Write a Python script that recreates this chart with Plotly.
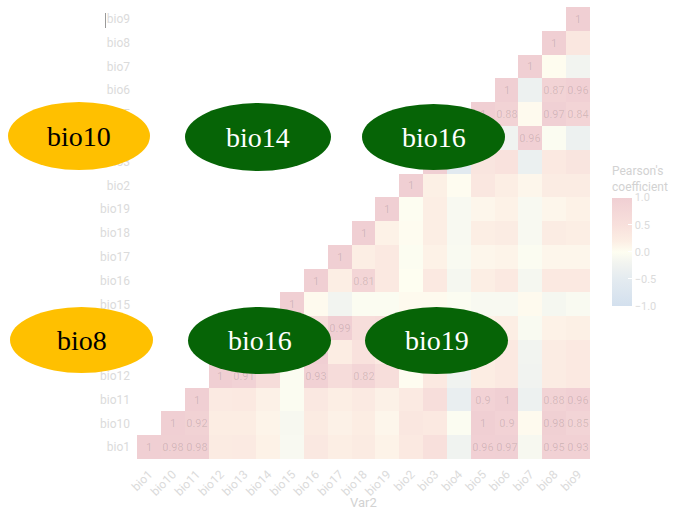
import numpy as np
import plotly.graph_objects as go

# Bioclimatic variables, in the order used on both axes
variables = ["bio1", "bio10", "bio11", "bio12", "bio13", "bio14", "bio15", "bio16",
             "bio17", "bio18", "bio19", "bio2", "bio3", "bio4", "bio5", "bio6",
             "bio7", "bio8", "bio9"]

# Pearson correlations, upper triangle: each row starts at its own diagonal
r_bio1 = [1, 0.98, 0.98, 0.27, 0.28, 0.15, -0.1, 0.32, 0.2, 0.26, 0.14, 0.3, 0.5, -0.25, 0.96, 0.97, -0.12, 0.95, 0.93]
r_bio10 = [1, 0.92, 0.22, 0.22, 0.12, -0.12, 0.26, 0.16, 0.22, 0.1, 0.35, 0.3, -0.05, 1, 0.9, 0.05, 0.98, 0.85]
r_bio11 = [1, 0.28, 0.3, 0.16, -0.05, 0.33, 0.2, 0.28, 0.16, 0.28, 0.55, -0.4, 0.9, 1, -0.3, 0.88, 0.96]
r_bio12 = [1, 0.91, 0.6, -0.05, 0.93, 0.62, 0.82, 0.55, 0.02, 0.3, -0.25, 0.22, 0.3, -0.22, 0.25, 0.3]
r_bio13 = [1, 0.4, 0.1, 0.99, 0.22, 0.45, 0.3, 0.0, 0.25, -0.25, 0.2, 0.3, -0.2, 0.25, 0.3]
r_bio14 = [1, 0.2, 0.6, 0.99, 0.55, 0.6, -0.05, 0.2, -0.1, 0.15, 0.2, -0.08, 0.15, 0.18]
r_bio15 = [1, 0.05, -0.2, -0.05, -0.05, 0.05, 0.05, -0.05, -0.1, -0.1, 0.05, -0.15, -0.08]
r_bio16 = [1, 0.2, 0.81, 0.3, 0.0, 0.3, -0.15, 0.2, 0.3, -0.15, 0.3, 0.3]
r_bio17 = [1, 0.2, 0.3, -0.03, 0.15, -0.08, 0.1, 0.12, -0.05, 0.1, 0.1]
r_bio18 = [1, 0.15, 0.02, 0.2, -0.1, 0.2, 0.25, -0.1, 0.25, 0.2]
r_bio19 = [1, -0.02, 0.2, -0.1, 0.1, 0.15, -0.1, 0.1, 0.15]
r_bio2 = [1, 0.18, 0.02, 0.35, 0.2, 0.1, 0.25, 0.25]
r_bio3 = [1, -0.55, 0.4, 0.45, -0.35, 0.3, 0.4]
r_bio4 = [1, -0.05, -0.25, 0.96, -0.05, -0.3]
r_bio5 = [1, 0.88, 0.05, 0.97, 0.84]
r_bio6 = [1, -0.3, 0.87, 0.96]
r_bio7 = [1, 0.03, -0.2]
r_bio8 = [1, 0.35]
r_bio9 = [1]

rows = [r_bio1, r_bio10, r_bio11, r_bio12, r_bio13, r_bio14, r_bio15, r_bio16, r_bio17,
        r_bio18, r_bio19, r_bio2, r_bio3, r_bio4, r_bio5, r_bio6, r_bio7, r_bio8, r_bio9]

# Boxes laid over the matrix: label, fill, text colour, pixel bounds (x0, x1, y0, y1)
box_labels = ["bio10", "bio14", "bio16", "bio8", "bio16", "bio19"]
box_fills = ["#FFC000", "#066406", "#066406", "#FFC000", "#066406", "#066406"]
box_text = ["#000000", "#ffffff", "#ffffff", "#000000", "#ffffff", "#ffffff"]
box_bounds = [(8, 150, 102, 170), (185, 331, 103, 171), (362, 505, 104, 170),
              (10, 153, 307, 373), (188, 331, 307, 374), (365, 508, 307, 374)]

n = len(variables)
z = np.full((n, n), np.nan)
for i, row in enumerate(rows):
    z[i, i:] = row

labels = np.full((n, n), "", dtype=object)
for i in range(n):
    for j in range(n):
        v = z[i, j]
        if not np.isnan(v) and abs(v) >= 0.8:
            labels[i, j] = f"{round(v, 2):g}"

# Plot area geometry in pixels
W_FIG, H_FIG = 677, 514
L, R, T, B = 137, 590, 7, 459
PW, PH = R - L, B - T


def px(x):
    return (x - L) / PW


def py(y):
    return (B - y) / PH


TICK_GREY = "#dbdbdb"
TITLE_GREY = "#d2d2d2"

colorscale = [
    [0.0, "rgb(211,224,238)"],
    [0.25, "rgb(228,235,240)"],
    [0.4, "rgb(242,244,240)"],
    [0.5, "rgb(254,254,241)"],
    [0.6, "rgb(252,238,228)"],
    [0.75, "rgb(248,224,220)"],
    [1.0, "rgb(240,207,211)"],
]

heat = go.Heatmap(
    x=variables,
    y=variables,
    z=z,
    text=labels,
    texttemplate="%{text}",
    textfont=dict(family="Roboto", size=11, color="rgba(0,0,0,0.13)"),
    zmin=-1,
    zmax=1,
    colorscale=colorscale,
    hoverinfo="skip",
    colorbar=dict(
        title=dict(text="Pearson's<br>coefficient", side="top",
                   font=dict(family="Roboto", size=12, color=TITLE_GREY)),
        x=px(612), xanchor="left", xpad=0,
        y=py(234.5), yanchor="middle", ypad=0,
        lenmode="pixels", len=143,
        thicknessmode="pixels", thickness=20,
        outlinewidth=0,
        tickvals=[-1, -0.5, 0, 0.5, 1],
        ticktext=["\u22121.0", "\u22120.5", "0.0", "0.5", "1.0"],
        ticks="inside", ticklen=4, tickcolor="white",
        tickfont=dict(family="Roboto", size=11, color=TICK_GREY),
    ),
)

fig = go.Figure(heat)

shapes = []
annotations = []
for lab, fill, tcol, (x0, x1, y0, y1) in zip(box_labels, box_fills, box_text, box_bounds):
    shapes.append(dict(type="circle", xref="paper", yref="paper",
                       x0=px(x0), x1=px(x1), y0=py(y1), y1=py(y0),
                       fillcolor=fill, line=dict(width=0), layer="above"))
    annotations.append(dict(text=lab, xref="paper", yref="paper",
                            x=px((x0 + x1) / 2), y=py((y0 + y1) / 2),
                            xanchor="center", yanchor="middle", showarrow=False,
                            font=dict(family="Liberation Serif", size=28, color=tcol)))

# x-axis title
annotations.append(dict(text="Var2", xref="paper", yref="paper",
                        x=0.5, y=py(502), xanchor="center", yanchor="middle",
                        showarrow=False,
                        font=dict(family="Roboto", size=13, color=TITLE_GREY)))

# small caret mark beside the top label
shapes.append(dict(type="line", xref="paper", yref="paper",
                   x0=px(105.5), x1=px(105.5), y0=py(28), y1=py(13),
                   line=dict(color="#9a9a9a", width=1), layer="above"))

fig.update_layout(
    width=W_FIG, height=H_FIG,
    margin=dict(l=L, r=W_FIG - R, t=T, b=H_FIG - B, autoexpand=False),
    paper_bgcolor="white",
    plot_bgcolor="white",
    shapes=shapes,
    annotations=annotations,
    font=dict(family="Roboto"),
    xaxis=dict(type="category", categoryorder="array", categoryarray=variables,
               showgrid=False, zeroline=False, showline=False, ticks="",
               tickangle=-45, ticklabelstandoff=5,
               tickfont=dict(family="Roboto", size=12, color=TICK_GREY),
               automargin=False),
    yaxis=dict(type="category", categoryorder="array", categoryarray=variables,
               showgrid=False, zeroline=False, showline=False, ticks="",
               ticklabelstandoff=6,
               tickfont=dict(family="Roboto", size=12, color=TICK_GREY),
               automargin=False),
)

fig.write_html("out.html")
